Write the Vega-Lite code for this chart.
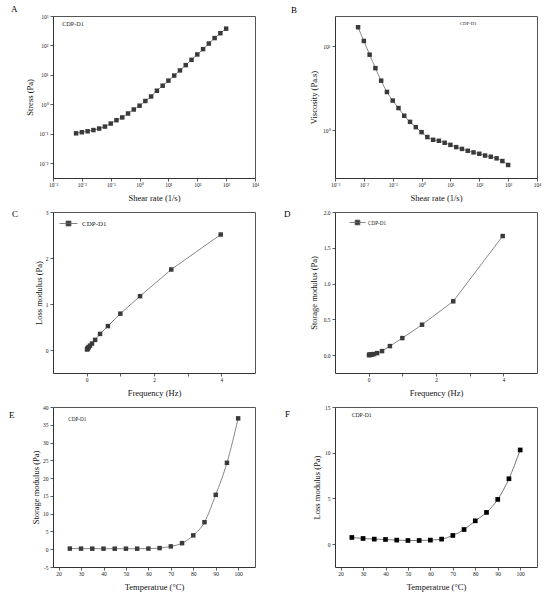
{
  "$schema": "https://vega.github.io/schema/vega-lite/v6.json",
  "padding": {"left": 9, "top": 4, "right": 4, "bottom": 4},
  "columns": 2,
  "spacing": {"row": 34, "column": 80},
  "bounds": "flush",
  "resolve": {"scale": {"color": "independent"}, "legend": {"color": "independent"}},
  "datasets": {
    "stress": [
      {"rate": 0.00631, "stress": 0.104, "series": "CDP-D1"},
      {"rate": 0.01, "stress": 0.113, "series": "CDP-D1"},
      {"rate": 0.01585, "stress": 0.122, "series": "CDP-D1"},
      {"rate": 0.02512, "stress": 0.134, "series": "CDP-D1"},
      {"rate": 0.03981, "stress": 0.151, "series": "CDP-D1"},
      {"rate": 0.0631, "stress": 0.176, "series": "CDP-D1"},
      {"rate": 0.1, "stress": 0.223, "series": "CDP-D1"},
      {"rate": 0.1585, "stress": 0.29, "series": "CDP-D1"},
      {"rate": 0.2512, "stress": 0.36, "series": "CDP-D1"},
      {"rate": 0.3981, "stress": 0.49, "series": "CDP-D1"},
      {"rate": 0.631, "stress": 0.67, "series": "CDP-D1"},
      {"rate": 1, "stress": 0.9, "series": "CDP-D1"},
      {"rate": 1.585, "stress": 1.3, "series": "CDP-D1"},
      {"rate": 2.512, "stress": 1.85, "series": "CDP-D1"},
      {"rate": 3.981, "stress": 2.9, "series": "CDP-D1"},
      {"rate": 6.31, "stress": 4.3, "series": "CDP-D1"},
      {"rate": 10, "stress": 6.4, "series": "CDP-D1"},
      {"rate": 15.85, "stress": 9.5, "series": "CDP-D1"},
      {"rate": 25.12, "stress": 14.2, "series": "CDP-D1"},
      {"rate": 39.81, "stress": 21.5, "series": "CDP-D1"},
      {"rate": 63.1, "stress": 32.5, "series": "CDP-D1"},
      {"rate": 100, "stress": 49.5, "series": "CDP-D1"},
      {"rate": 158.5, "stress": 75, "series": "CDP-D1"},
      {"rate": 251.2, "stress": 116, "series": "CDP-D1"},
      {"rate": 398.1, "stress": 178, "series": "CDP-D1"},
      {"rate": 631, "stress": 260, "series": "CDP-D1"},
      {"rate": 1000, "stress": 372, "series": "CDP-D1"}
    ],
    "viscosity": [
      {"rate": 0.00631, "viscosity": 16.9, "series": "CDP-D1"},
      {"rate": 0.01, "viscosity": 11.6, "series": "CDP-D1"},
      {"rate": 0.01585, "viscosity": 7.96, "series": "CDP-D1"},
      {"rate": 0.02512, "viscosity": 5.5, "series": "CDP-D1"},
      {"rate": 0.03981, "viscosity": 3.9, "series": "CDP-D1"},
      {"rate": 0.0631, "viscosity": 2.86, "series": "CDP-D1"},
      {"rate": 0.1, "viscosity": 2.26, "series": "CDP-D1"},
      {"rate": 0.1585, "viscosity": 1.84, "series": "CDP-D1"},
      {"rate": 0.2512, "viscosity": 1.49, "series": "CDP-D1"},
      {"rate": 0.3981, "viscosity": 1.26, "series": "CDP-D1"},
      {"rate": 0.631, "viscosity": 1.09, "series": "CDP-D1"},
      {"rate": 1, "viscosity": 0.95, "series": "CDP-D1"},
      {"rate": 1.585, "viscosity": 0.83, "series": "CDP-D1"},
      {"rate": 2.512, "viscosity": 0.77, "series": "CDP-D1"},
      {"rate": 3.981, "viscosity": 0.75, "series": "CDP-D1"},
      {"rate": 6.31, "viscosity": 0.71, "series": "CDP-D1"},
      {"rate": 10, "viscosity": 0.67, "series": "CDP-D1"},
      {"rate": 15.85, "viscosity": 0.63, "series": "CDP-D1"},
      {"rate": 25.12, "viscosity": 0.6, "series": "CDP-D1"},
      {"rate": 39.81, "viscosity": 0.57, "series": "CDP-D1"},
      {"rate": 63.1, "viscosity": 0.545, "series": "CDP-D1"},
      {"rate": 100, "viscosity": 0.525, "series": "CDP-D1"},
      {"rate": 158.5, "viscosity": 0.5, "series": "CDP-D1"},
      {"rate": 251.2, "viscosity": 0.484, "series": "CDP-D1"},
      {"rate": 398.1, "viscosity": 0.463, "series": "CDP-D1"},
      {"rate": 631, "viscosity": 0.43, "series": "CDP-D1"},
      {"rate": 1000, "viscosity": 0.386, "series": "CDP-D1"}
    ],
    "loss_freq": [
      {"freq": 3.981, "loss": 2.51, "series": "CDP-D1"},
      {"freq": 2.512, "loss": 1.75, "series": "CDP-D1"},
      {"freq": 1.585, "loss": 1.17, "series": "CDP-D1"},
      {"freq": 1, "loss": 0.79, "series": "CDP-D1"},
      {"freq": 0.631, "loss": 0.52, "series": "CDP-D1"},
      {"freq": 0.398, "loss": 0.35, "series": "CDP-D1"},
      {"freq": 0.251, "loss": 0.22, "series": "CDP-D1"},
      {"freq": 0.158, "loss": 0.14, "series": "CDP-D1"},
      {"freq": 0.1, "loss": 0.095, "series": "CDP-D1"},
      {"freq": 0.063, "loss": 0.065, "series": "CDP-D1"},
      {"freq": 0.04, "loss": 0.045, "series": "CDP-D1"},
      {"freq": 0.025, "loss": 0.03, "series": "CDP-D1"},
      {"freq": 0.016, "loss": 0.02, "series": "CDP-D1"},
      {"freq": 0.01, "loss": 0.013, "series": "CDP-D1"}
    ],
    "storage_freq": [
      {"freq": 3.981, "storage": 1.664, "series": "CDP-D1"},
      {"freq": 2.512, "storage": 0.752, "series": "CDP-D1"},
      {"freq": 1.585, "storage": 0.425, "series": "CDP-D1"},
      {"freq": 1, "storage": 0.238, "series": "CDP-D1"},
      {"freq": 0.631, "storage": 0.126, "series": "CDP-D1"},
      {"freq": 0.398, "storage": 0.056, "series": "CDP-D1"},
      {"freq": 0.251, "storage": 0.028, "series": "CDP-D1"},
      {"freq": 0.158, "storage": 0.015, "series": "CDP-D1"},
      {"freq": 0.1, "storage": 0.009, "series": "CDP-D1"},
      {"freq": 0.063, "storage": 0.006, "series": "CDP-D1"},
      {"freq": 0.04, "storage": 0.004, "series": "CDP-D1"},
      {"freq": 0.025, "storage": 0.003, "series": "CDP-D1"},
      {"freq": 0.016, "storage": 0.002, "series": "CDP-D1"},
      {"freq": 0.01, "storage": 0.002, "series": "CDP-D1"}
    ],
    "storage_temp": [
      {"temp": 25, "storage": 0.18, "series": "CDP-D1"},
      {"temp": 30, "storage": 0.17, "series": "CDP-D1"},
      {"temp": 35, "storage": 0.16, "series": "CDP-D1"},
      {"temp": 40, "storage": 0.16, "series": "CDP-D1"},
      {"temp": 45, "storage": 0.15, "series": "CDP-D1"},
      {"temp": 50, "storage": 0.15, "series": "CDP-D1"},
      {"temp": 55, "storage": 0.15, "series": "CDP-D1"},
      {"temp": 60, "storage": 0.18, "series": "CDP-D1"},
      {"temp": 65, "storage": 0.32, "series": "CDP-D1"},
      {"temp": 70, "storage": 0.8, "series": "CDP-D1"},
      {"temp": 75, "storage": 1.7, "series": "CDP-D1"},
      {"temp": 80, "storage": 3.9, "series": "CDP-D1"},
      {"temp": 85, "storage": 7.6, "series": "CDP-D1"},
      {"temp": 90, "storage": 15.3, "series": "CDP-D1"},
      {"temp": 95, "storage": 24.3, "series": "CDP-D1"},
      {"temp": 100, "storage": 36.8, "series": "CDP-D1"}
    ],
    "loss_temp": [
      {"temp": 25, "loss": 0.73, "series": "CDP-D1"},
      {"temp": 30, "loss": 0.62, "series": "CDP-D1"},
      {"temp": 35, "loss": 0.55, "series": "CDP-D1"},
      {"temp": 40, "loss": 0.51, "series": "CDP-D1"},
      {"temp": 45, "loss": 0.44, "series": "CDP-D1"},
      {"temp": 50, "loss": 0.4, "series": "CDP-D1"},
      {"temp": 55, "loss": 0.4, "series": "CDP-D1"},
      {"temp": 60, "loss": 0.44, "series": "CDP-D1"},
      {"temp": 65, "loss": 0.55, "series": "CDP-D1"},
      {"temp": 70, "loss": 0.95, "series": "CDP-D1"},
      {"temp": 75, "loss": 1.6, "series": "CDP-D1"},
      {"temp": 80, "loss": 2.55, "series": "CDP-D1"},
      {"temp": 85, "loss": 3.47, "series": "CDP-D1"},
      {"temp": 90, "loss": 4.89, "series": "CDP-D1"},
      {"temp": 95, "loss": 7.15, "series": "CDP-D1"},
      {"temp": 100, "loss": 10.3, "series": "CDP-D1"}
    ]
  },
  "concat": [
    {
      "width": 202,
      "height": 162,
      "title": {"text": "A", "dx": -42, "dy": 3.7},
      "resolve": {"axis": {"x": "independent", "y": "independent"}},
      "layer": [
        {"data": {"name": "stress"}, "mark": {"type": "line", "interpolate": "monotone", "color": "#7a7a7a", "strokeWidth": 0.9},
          "encoding": {
            "x": {"field": "rate", "type": "quantitative", "scale": {"type": "log", "domain": [0.001, 10000], "nice": false},
              "axis": {"title": "Shear rate (1/s)", "values": [0.001, 0.01, 0.1, 1, 10, 100, 1000, 10000], "titlePadding": 6,
                "labelExpr": "['10⁻³','10⁻²','10⁻¹','10⁰','10¹','10²','10³','10⁴'][round(log(datum.value)/LN10)+3]"}},
            "y": {"field": "stress", "type": "quantitative", "scale": {"type": "log", "domain": [0.00316, 1000], "nice": false},
              "axis": {"title": "Stress (Pa)", "values": [0.01, 0.1, 1, 10, 100, 1000], "titlePadding": 4,
                "labelExpr": "['10⁻³','10⁻²','10⁻¹','10⁰','10¹','10²','10³','10⁴'][round(log(datum.value)/LN10)+3]"}}
          }},
        {"data": {"name": "stress"}, "mark": {"type": "point", "shape": "square", "filled": true, "size": 20, "opacity": 1},
          "encoding": {
            "x": {"field": "rate", "type": "quantitative", "axis": {"orient": "top", "title": null, "labels": false, "ticks": false, "domainColor": "#555555", "domainWidth": 1}},
            "y": {"field": "stress", "type": "quantitative", "axis": {"orient": "right", "title": null, "labels": false, "ticks": false, "domainColor": "#555555", "domainWidth": 1}},
            "color": {"field": "series", "type": "nominal", "scale": {"range": ["#3a3a3a"]},
              "legend": {"title": null, "orient": "none", "legendX": 3, "legendY": 5, "symbolOpacity": 0, "symbolSize": 1, "labelOffset": 0, "labelFontSize": 6.2}}}}
      ]
    },
    {
      "width": 202,
      "height": 162,
      "title": {"text": "B", "dx": -44, "dy": 2.7},
      "resolve": {"axis": {"x": "independent", "y": "independent"}},
      "layer": [
        {"data": {"name": "viscosity"}, "mark": {"type": "line", "interpolate": "monotone", "color": "#7a7a7a", "strokeWidth": 0.9},
          "encoding": {
            "x": {"field": "rate", "type": "quantitative", "scale": {"type": "log", "domain": [0.001, 10000], "nice": false},
              "axis": {"title": "Shear rate (1/s)", "values": [0.001, 0.01, 0.1, 1, 10, 100, 1000, 10000], "titlePadding": 6,
                "labelExpr": "['10⁻³','10⁻²','10⁻¹','10⁰','10¹','10²','10³','10⁴'][round(log(datum.value)/LN10)+3]"}},
            "y": {"field": "viscosity", "type": "quantitative", "scale": {"type": "log", "domain": [0.27, 23], "nice": false},
              "axis": {"title": "Viscosity (Pa.s)", "values": [1, 10], "titlePadding": 4,
                "labelExpr": "['10⁻³','10⁻²','10⁻¹','10⁰','10¹','10²','10³','10⁴'][round(log(datum.value)/LN10)+3]"}}
          }},
        {"data": {"name": "viscosity"}, "mark": {"type": "point", "shape": "square", "filled": true, "size": 20, "opacity": 1},
          "encoding": {
            "x": {"field": "rate", "type": "quantitative", "axis": {"orient": "top", "title": null, "labels": false, "ticks": false, "domainColor": "#555555", "domainWidth": 1}},
            "y": {"field": "viscosity", "type": "quantitative", "axis": {"orient": "right", "title": null, "labels": false, "ticks": false, "domainColor": "#555555", "domainWidth": 1}},
            "color": {"field": "series", "type": "nominal", "scale": {"range": ["#3a3a3a"]},
              "legend": {"title": null, "orient": "none", "legendX": 120, "legendY": 6, "symbolOpacity": 0, "symbolSize": 1, "labelOffset": 0, "labelFontSize": 4.8}}}}
      ]
    },
    {
      "width": 202,
      "height": 161,
      "title": {"text": "C", "dx": -41, "dy": 13},
      "resolve": {"axis": {"x": "independent", "y": "independent"}},
      "layer": [
        {"data": {"name": "loss_freq"}, "mark": {"type": "line", "color": "#7a7a7a", "strokeWidth": 0.9},
          "encoding": {
            "x": {"field": "freq", "type": "quantitative", "scale": {"domain": [-1, 5], "nice": false},
              "axis": {"title": "Frequency (Hz)", "values": [0, 1, 2, 3, 4], "titlePadding": 6, "labelExpr": "datum.value % 2 == 0 ? datum.label : ''"}},
            "y": {"field": "loss", "type": "quantitative", "scale": {"domain": [-0.5, 3], "nice": false},
              "axis": {"title": "Loss modulus (Pa)", "values": [0, 1, 2, 3], "titlePadding": 2}}
          }},
        {"data": {"name": "loss_freq"}, "mark": {"type": "point", "shape": "square", "filled": true, "size": 20, "opacity": 1},
          "encoding": {
            "x": {"field": "freq", "type": "quantitative", "axis": {"orient": "top", "title": null, "labels": false, "ticks": false, "domainColor": "#555555", "domainWidth": 1}},
            "y": {"field": "loss", "type": "quantitative", "axis": {"orient": "right", "title": null, "labels": false, "ticks": false, "domainColor": "#555555", "domainWidth": 1}},
            "color": {"field": "series", "type": "nominal", "scale": {"range": ["#3a3a3a"]},
              "legend": {"title": null, "orient": "none", "legendX": 6, "legendY": 2, "symbolType": "M-1,0H1M-0.28,-0.28H0.28V0.28H-0.28Z", "symbolSize": 324, "symbolStrokeColor": "#666666", "symbolStrokeWidth": 0.8, "labelOffset": 4, "labelFontSize": 7}}}}
      ]
    },
    {
      "width": 202,
      "height": 161,
      "title": {"text": "D", "dx": -51, "dy": 12.7},
      "resolve": {"axis": {"x": "independent", "y": "independent"}},
      "layer": [
        {"data": {"name": "storage_freq"}, "mark": {"type": "line", "color": "#7a7a7a", "strokeWidth": 0.9},
          "encoding": {
            "x": {"field": "freq", "type": "quantitative", "scale": {"domain": [-1, 5], "nice": false},
              "axis": {"title": "Frequency (Hz)", "values": [0, 1, 2, 3, 4], "titlePadding": 6, "labelExpr": "datum.value % 2 == 0 ? datum.label : ''"}},
            "y": {"field": "storage", "type": "quantitative", "scale": {"domain": [-0.25, 2], "nice": false},
              "axis": {"title": "Storage modulus (Pa)", "values": [0, 0.5, 1, 1.5, 2], "format": ".1f", "titlePadding": 5}}
          }},
        {"data": {"name": "storage_freq"}, "mark": {"type": "point", "shape": "square", "filled": true, "size": 20, "opacity": 1},
          "encoding": {
            "x": {"field": "freq", "type": "quantitative", "axis": {"orient": "top", "title": null, "labels": false, "ticks": false, "domainColor": "#555555", "domainWidth": 1}},
            "y": {"field": "storage", "type": "quantitative", "axis": {"orient": "right", "title": null, "labels": false, "ticks": false, "domainColor": "#555555", "domainWidth": 1}},
            "color": {"field": "series", "type": "nominal", "scale": {"range": ["#3a3a3a"]},
              "legend": {"title": null, "orient": "none", "legendX": 14, "legendY": 2, "symbolType": "M-1,0H1M-0.3,-0.3H0.3V0.3H-0.3Z", "symbolSize": 256, "symbolStrokeColor": "#666666", "symbolStrokeWidth": 0.8, "labelOffset": 2, "labelFontSize": 5.2}}}}
      ]
    },
    {
      "width": 202,
      "height": 160,
      "title": {"text": "E", "dx": -44, "dy": 18.7},
      "resolve": {"axis": {"x": "independent", "y": "independent"}},
      "layer": [
        {"data": {"name": "storage_temp"}, "mark": {"type": "line", "interpolate": "monotone", "color": "#7a7a7a", "strokeWidth": 0.9},
          "encoding": {
            "x": {"field": "temp", "type": "quantitative", "scale": {"domain": [17.5, 107.5], "nice": false},
              "axis": {"title": "Temperatrue (°C)", "values": [20, 30, 40, 50, 60, 70, 80, 90, 100], "titlePadding": 6}},
            "y": {"field": "storage", "type": "quantitative", "scale": {"domain": [-5, 40], "nice": false},
              "axis": {"title": "Storage modulus (Pa)", "values": [-5, 0, 5, 10, 15, 20, 25, 30, 35, 40], "labelExpr": "toString(datum.value)", "titlePadding": 2}}
          }},
        {"data": {"name": "storage_temp"}, "mark": {"type": "point", "shape": "square", "filled": true, "size": 20, "opacity": 1},
          "encoding": {
            "x": {"field": "temp", "type": "quantitative", "axis": {"orient": "top", "title": null, "labels": false, "ticks": false, "domainColor": "#555555", "domainWidth": 1}},
            "y": {"field": "storage", "type": "quantitative", "axis": {"orient": "right", "title": null, "labels": false, "ticks": false, "domainColor": "#555555", "domainWidth": 1}},
            "color": {"field": "series", "type": "nominal", "scale": {"range": ["#3a3a3a"]},
              "legend": {"title": null, "orient": "none", "legendX": 10, "legendY": 9, "symbolOpacity": 0, "symbolSize": 1, "labelOffset": 0, "labelFontSize": 5.2}}}}
      ]
    },
    {
      "width": 202,
      "height": 160,
      "title": {"text": "F", "dx": -50, "dy": 17.7},
      "resolve": {"axis": {"x": "independent", "y": "independent"}},
      "layer": [
        {"data": {"name": "loss_temp"}, "mark": {"type": "line", "interpolate": "monotone", "color": "#6a6a6a", "strokeWidth": 0.9},
          "encoding": {
            "x": {"field": "temp", "type": "quantitative", "scale": {"domain": [17.5, 107.5], "nice": false},
              "axis": {"title": "Temperatrue (°C)", "values": [20, 30, 40, 50, 60, 70, 80, 90, 100], "titlePadding": 6}},
            "y": {"field": "loss", "type": "quantitative", "scale": {"domain": [-2.5, 15], "nice": false},
              "axis": {"title": "Loss modulus (Pa)", "values": [0, 5, 10, 15], "titlePadding": 3}}
          }},
        {"data": {"name": "loss_temp"}, "mark": {"type": "point", "shape": "square", "filled": true, "size": 22, "opacity": 1},
          "encoding": {
            "x": {"field": "temp", "type": "quantitative", "axis": {"orient": "top", "title": null, "labels": false, "ticks": false, "domainColor": "#555555", "domainWidth": 1}},
            "y": {"field": "loss", "type": "quantitative", "axis": {"orient": "right", "title": null, "labels": false, "ticks": false, "domainColor": "#555555", "domainWidth": 1}},
            "color": {"field": "series", "type": "nominal", "scale": {"range": ["#000000"]},
              "legend": {"title": null, "orient": "none", "legendX": 11, "legendY": 5, "symbolOpacity": 0, "symbolSize": 1, "labelOffset": 0, "labelFontSize": 5.7}}}}
      ]
    }
  ],
  "config": {
    "font": "Liberation Serif",
    "background": "white",
    "view": {"stroke": null},
    "axis": {
      "grid": false,
      "labelFontSize": 5.5,
      "titleFontSize": 8.5,
      "titleFontWeight": "normal",
      "tickSize": 3,
      "labelPadding": 1,
      "labelFlush": false,
      "labelOverlap": false,
      "domainColor": "#333333",
      "tickColor": "#333333",
      "labelColor": "#222222",
      "titleColor": "#111111",
      "domainWidth": 1,
      "tickWidth": 0.8
    },
    "axisY": {"labelPadding": 2},
    "title": {"anchor": "start", "frame": "group", "fontSize": 9, "fontWeight": "normal", "baseline": "bottom", "offset": 0, "color": "#000000"},
    "legend": {"padding": 0, "labelColor": "#222222", "labelFont": "Liberation Serif"}
  }
}
